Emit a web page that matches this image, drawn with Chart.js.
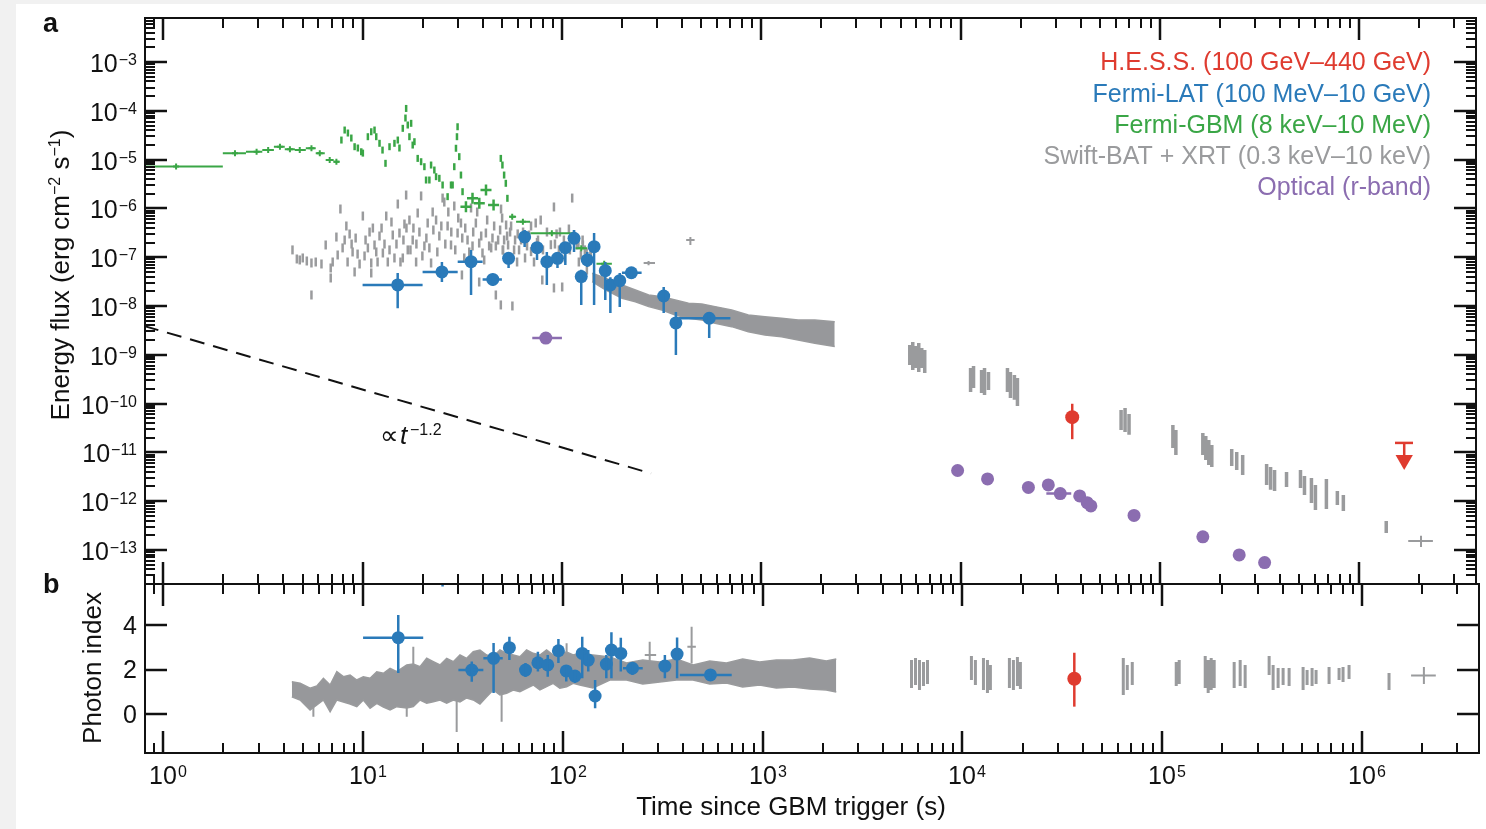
<!DOCTYPE html>
<html>
<head>
<meta charset="utf-8">
<script src="https://cdn.jsdelivr.net/npm/chart.js@4.4.1/dist/chart.umd.min.js"></script>
<style>
  body { margin: 0; background: #f1f1f1; width: 1486px; height: 829px; overflow: hidden; position: relative; }
  #sheet { position: absolute; left: 16px; top: 4px; width: 1470px; height: 825px; background: #fff; }
  canvas { position: absolute; left: 0; }
  #panelA { top: 0; }
  #panelB { top: 560px; }
</style>
</head>
<body>
<div id="sheet"></div>
<canvas id="panelA" width="1486" height="600"></canvas>
<canvas id="panelB" width="1486" height="269"></canvas>
<script>
// axis ranges
const xMin = 0.81, xMax = 3.85e6;
const fluxMin = 2.0e-14, fluxMax = 8.0e-3;
const idxMin = -1.76, idxMax = 5.86;
const xTickExp = [0, 1, 2, 3, 4, 5, 6];
const fluxTickExp = [-3, -4, -5, -6, -7, -8, -9, -10, -11, -12, -13];
const idxTicks = [0, 2, 4];

const legendLabels = ['H.E.S.S. (100 GeV\u2013440 GeV)', 'Fermi-LAT (100 MeV\u201310 GeV)',
  'Fermi-GBM (8 keV\u201310 MeV)', 'Swift-BAT + XRT (0.3 keV\u201310 keV)', 'Optical (r-band)'];

// Fermi-LAT
const latT = [15, 25, 35, 45, 54, 65, 75, 84, 95, 104, 115, 125, 134, 145, 165, 175, 195, 223, 324, 373, 548];
const latTLo = [10, 20, 30, 40, null, null, null, null, null, null, null, null, null, null, null, null, null, 200, null, null, 385];
const latTHi = [20, 30, 40, 50, null, null, null, null, null, null, null, null, null, null, null, null, null, 251, null, null, 700];
const latF = [2.7e-8, 5.0e-8, 8.1e-8, 3.5e-8, 9.5e-8, 2.6e-7, 1.57e-7, 8.1e-8, 9.5e-8, 1.57e-7, 2.44e-7, 4.0e-8, 8.8e-8, 1.64e-7, 5.3e-8, 2.7e-8, 3.3e-8, 4.8e-8, 1.6e-8, 4.5e-9, 5.6e-9];
const latFHi = [4.75e-8, 8.0e-8, 1.41e-7, 4.6e-8, 1.28e-7, 3.6e-7, 2.05e-7, 1.28e-7, 1.22e-7, 2.05e-7, 3.6e-7, 5.5e-8, 1.28e-7, 3.13e-7, 8.0e-8, 3.9e-8, 4.75e-8, 6.3e-8, 2.45e-8, 7.5e-9, 7.5e-9];
const latFLo = [9.0e-9, 3.1e-8, 1.68e-8, 2.6e-8, 6.0e-8, 1.62e-7, 8.8e-8, 2.7e-8, 6.0e-8, 6.9e-8, 1.28e-7, 1.05e-8, 6.3e-8, 1.05e-8, 1.33e-8, 7.2e-9, 9.5e-9, 3.75e-8, 7.2e-9, 9.9e-10, 2.2e-9];
const latIdx = [3.44, 7.0, 1.98, 2.51, 2.99, 1.98, 2.31, 2.21, 2.85, 1.94, 1.71, 2.73, 2.43, 0.81, 2.25, 2.88, 2.73, 2.06, 2.16, 2.70, 1.76];
const latIdxHi = [4.46, 8.0, 2.36, 3.2, 3.48, 2.30, 2.81, 2.66, 3.38, 2.21, 1.98, 3.48, 2.88, 1.53, 2.66, 3.68, 3.44, 2.28, 2.66, 3.45, 1.9];
const latIdxLo = [1.85, 5.75, 1.45, 0.95, 2.43, 1.67, 1.91, 1.68, 2.30, 1.46, 1.40, 1.61, 1.91, 0.26, 1.61, 1.61, 1.91, 1.76, 1.61, 1.61, 1.61];

// H.E.S.S.
const hessT = [36300], hessF = [5.26e-11], hessFLo = [1.86e-11], hessFHi = [9.9e-11];
const hessIdx = [1.59], hessIdxLo = [0.33], hessIdxHi = [2.76];
const hessUlT = [1.68e6], hessUlTLo = [1.51e6], hessUlTHi = [1.86e6], hessUlF = [1.56e-11], hessUlTip = [7.0e-12];

// Optical r-band
const optT = [83, 9660, 13650, 21880, 27540, 31620, 39580, 43150, 45030, 74130, 164100, 249800, 335000];
const optTLo = [71, null, null, null, null, 26920, null, null, null, null, null, null, null];
const optTHi = [100, null, null, null, null, 35890, null, null, null, null, null, null, null];
const optF = [2.2e-9, 4.24e-12, 2.85e-12, 1.91e-12, 2.15e-12, 1.43e-12, 1.28e-12, 9.3e-13, 7.97e-13, 5.1e-13, 1.85e-13, 7.9e-14, 5.5e-14];

// Fermi-GBM: binned points with time ranges
const gbmBinT = [1.16, 2.29, 2.94, 3.36, 3.85, 4.32, 4.84, 5.54, 6.10, 6.84, 7.39, 56.3, 63.7, 89, 125, 163];
const gbmBinLo = [0.5, 1.99, 2.60, 3.14, 3.59, 4.07, 4.57, 5.19, 5.82, 6.53, 7.16, 54.5, 58.9, 69.5, 117, 149];
const gbmBinHi = [1.99, 2.60, 3.14, 3.59, 4.07, 4.57, 5.19, 5.82, 6.46, 7.16, 7.67, 58.9, 69.2, 114.8, 134, 178];
const gbmBinF = [7.2e-6, 1.35e-5, 1.45e-5, 1.57e-5, 1.84e-5, 1.63e-5, 1.57e-5, 1.71e-5, 1.35e-5, 9.8e-6, 9.06e-6, 6.76e-7, 5.3e-7, 3.09e-7, 1.52e-7, 7.3e-8];
// Fermi-GBM: fine time bins during the prompt phase
const gbmT = [7.83, 8.13, 8.44, 8.78, 9.12, 9.47, 9.85, 10.03, 10.63, 11.05, 11.48, 11.71, 12.16, 12.59, 13.03, 13.65, 14.45, 15.02, 15.31, 15.91,
  16.41, 16.54, 16.85, 17.18, 17.52, 17.84, 18.2, 18.9, 19.66, 20.42, 20.82, 21.63, 22.06, 22.91, 23.37, 24.27, 25.2, 26.7, 27.77, 28.29,
  28.84, 29.41, 29.75, 29.96, 30.55, 31.15, 31.73, 49.37, 50.29, 51.29, 52.3, 53.27];
const gbmF = [2.52e-5, 4.04e-5, 3.51e-5, 2.77e-5, 1.84e-5, 1.73e-5, 1.45e-5, 1.36e-5, 2.95e-5, 3.73e-5, 4.04e-5, 2.95e-5, 2.16e-5, 1.57e-5, 8.4e-6, 1.84e-5, 2.16e-5, 2.52e-5, 1.73e-5, 4.38e-5,
  7.12e-5, 1.12e-4, 5.12e-5, 2.95e-5, 5.55e-5, 1.99e-5, 2.33e-5, 1.06e-5, 9.06e-6, 7.16e-6, 3.82e-6, 3.82e-6, 7.75e-6, 6.12e-6, 4.47e-6, 4.14e-6, 3.02e-6, 1.74e-6, 3.02e-6, 3.02e-6,
  7.16e-6, 1.71e-5, 2.95e-5, 4.72e-5, 1.15e-5, 4.83e-6, 2.2e-6, 1.06e-5, 7.75e-6, 4.83e-6, 3.27e-6, 1.61e-6];
const gbmCrossT = [33.0, 35.6, 38.5, 41.6, 45.4];
const gbmCrossF = [1.08e-6, 1.61e-6, 1.27e-6, 2.38e-6, 1.17e-6];

// Swift BAT+XRT: early points
const xrtEarlyT = [4.45, 4.68, 4.84, 5.01, 5.25, 5.54, 5.54, 5.82, 6.22, 6.53, 6.92, 6.92, 7.39, 7.74, 7.94, 8.29, 8.61, 8.91, 9.12, 9.44,
  10.03, 10.23, 10.63, 11.05, 11.05, 11.26, 11.71, 12.16, 12.64, 13.14, 13.38, 14.17, 14.45, 15.02, 15.31, 15.91, 16.22, 16.54, 16.85, 17.18,
  17.84, 18.56, 18.9, 19.66, 20.42, 21.21, 22.06, 22.47, 23.37, 24.27, 25.2, 25.7, 26.7, 27.77, 28.84, 29.96, 31.15, 31.5, 32.36, 33.61,
  35.0, 35.6, 37.0, 38.46, 38.46, 39.95, 41.55, 43.15, 44.83, 46.61, 46.61, 48.98, 49.37, 49.5, 50.12, 50.5, 51.29, 52.48, 53.7, 54.95,
  56.43, 57.54, 59.57, 60, 62.37, 65.31, 68.39, 70, 73.87, 75, 78.25, 79.7, 84.14, 88, 91.2, 91.2, 94, 96.6, 98, 100.3,
  102.3, 108.4, 112.6, 115, 118.9, 121, 124.5, 127, 130.3, 133, 136.5, 139,
  7.08, 7.50, 8.13, 8.41, 8.81, 9.23, 9.66, 10.35, 10.84, 11.48, 11.89, 12.45, 12.88, 13.65, 13.96, 14.79, 15.49, 16.03, 16.6, 17.38,
  17.99, 18.62, 19.28, 19.95, 20.89, 21.63, 22.65, 23.71, 24.83, 26.0, 26.92, 27.86, 29.17, 30.2, 31.62, 32.73, 34.28, 35.89, 37.58, 39.36,
  40.74, 42.17, 44.16, 45.71, 47.86, 50.7, 53.09, 55.59, 58.21, 60.95, 63.83, 66.83, 69.98, 72.44, 75.86, 80.35, 84.14, 88.1, 92.26, 97.72,
  103.5, 109.6, 114.8, 121.6, 127.4, 133.4, 139.6];
const xrtEarlyF = [1.41e-7, 9.19e-8, 8.77e-8, 9.64e-8, 8.36e-8, 7.61e-8, 1.68e-8, 7.97e-8, 7.26e-8, 1.78e-7, 6.01e-8, 3.75e-8, 2.59e-7, 9.72e-7, 1.55e-7, 4.36e-7, 2.99e-7, 1.28e-7, 4.98e-8, 1.16e-7,
  6.98e-7, 1.06e-7, 1.55e-7, 7.61e-8, 4.75e-8, 3.96e-7, 1.28e-7, 2.72e-7, 1.22e-7, 6.98e-7, 7.97e-8, 2.85e-7, 9.64e-8, 1.23e-6, 3.13e-7, 9.64e-8, 4.79e-7, 1.88e-6, 1.41e-7, 5.78e-7,
  2.25e-7, 7.97e-8, 8.05e-7, 1.80e-6, 1.70e-7, 5.02e-7, 7.61e-8, 8.44e-7, 5.78e-7, 2.72e-7, 1.63e-6, 1.35e-6, 4.36e-7, 1.78e-7, 1.12e-6, 3.13e-7, 5.02e-7, 4.32e-8, 9.64e-8, 2.25e-7,
  1.02e-6, 1.70e-7, 5.02e-7, 1.95e-7, 3.10e-8, 1.22e-7, 3.13e-7, 1.70e-7, 2.47e-7, 1.70e-7, 1.68e-8, 3.61e-7, 1.05e-8, 9.7e-7, 6.35e-7, 1.4e-7, 2.25e-7, 4.57e-7, 1.78e-7, 3.28e-7,
  1.0e-8, 1.41e-7, 7.97e-8, 3.0e-7, 2.25e-7, 9.64e-8, 2.85e-7, 1.3e-7, 5.02e-7, 2.0e-7, 5.78e-7, 3.41e-8, 6.92e-8, 1.8e-7, 1.07e-6, 2.34e-8, 3.0e-7, 1.41e-7, 9.0e-8, 2.45e-8,
  2.25e-7, 3.78e-7, 1.63e-6, 2.85e-7, 1.78e-7, 1.95e-7, 1.11e-7, 2.25e-7, 1.41e-7, 1.22e-7, 7.97e-8, 1.06e-7,
  7.97e-8, 1.11e-7, 2.25e-7, 7.97e-8, 1.86e-7, 2.47e-7, 7.26e-8, 2.25e-7, 3.28e-7, 1.78e-7, 7.97e-8, 3.96e-7, 1.86e-7, 1.41e-7, 5.26e-7, 1.86e-7, 7.97e-8, 2.25e-7, 3.96e-7, 1.41e-7,
  3.96e-7, 1.86e-7, 3.28e-7, 1.06e-7, 2.47e-7, 1.55e-7, 3.61e-7, 1.28e-7, 4.36e-7, 1.86e-7, 8.44e-7, 3.28e-7, 1.41e-7, 6.35e-7, 2.47e-7, 3.96e-7, 1.28e-7, 3.28e-7, 8.44e-7, 2.72e-7,
  8.77e-8, 5.78e-7, 1.55e-7, 4.36e-7, 2.25e-7, 1.41e-7, 2.72e-7, 4.36e-7, 2.25e-7, 1.41e-7, 3.28e-7, 1.70e-7, 4.36e-7, 7.97e-8, 2.25e-7, 1.41e-7, 3.28e-7, 7.97e-8, 1.86e-7, 3.28e-7,
  9.64e-8, 1.41e-7, 2.47e-7, 7.97e-8, 1.78e-7, 5.47e-8, 1.11e-7];
// Swift XRT: dense band (upper / lower edge)
const xrtBandT = [141.8, 165.4, 200.3, 233.7, 272.3, 317.4, 370.3, 431.5, 502.9, 586.7, 710.3, 861, 1043.5, 1264, 1531, 1856, 2336];
const xrtBandHi = [4.68e-8, 3.70e-8, 2.69e-8, 2.13e-8, 1.68e-8, 1.55e-8, 1.33e-8, 1.14e-8, 1.10e-8, 9.7e-9, 8.28e-9, 6.54e-9, 6.04e-9, 5.6e-9, 5.17e-9, 5.17e-9, 4.77e-9];
const xrtBandLo = [3.15e-8, 2.13e-8, 1.44e-8, 1.22e-8, 9.7e-9, 8.28e-9, 6.54e-9, 5.6e-9, 5.17e-9, 4.42e-9, 3.77e-9, 2.97e-9, 2.55e-9, 2.35e-9, 2.01e-9, 1.72e-9, 1.47e-9];
// Swift XRT: late orbits (time, low, high)
const xrtLateT = [5559, 5754, 5957, 6166, 6383, 6607, 11220, 11610, 12740, 13180, 13800, 17180, 17780, 18620, 19280, 63830, 66830, 69980, 116100, 120200,
  164100, 169800, 175800, 182000, 229100, 242700, 260000, 342800, 358900, 375800, 431500, 507000, 530900, 575400, 602600, 683900, 776200, 831800, 1365000];
const xrtLateHi = [1.59e-9, 1.83e-9, 1.52e-9, 1.75e-9, 1.38e-9, 1.25e-9, 5.36e-10, 5.89e-10, 4.89e-10, 5.36e-10, 4.45e-10, 5.36e-10, 4.45e-10, 3.86e-10, 3.35e-10, 7.4e-11, 8.13e-11, 6.12e-11, 3.64e-11, 2.88e-11,
  2.5e-11, 2.17e-11, 1.79e-11, 1.42e-11, 1.17e-11, 1.02e-11, 8.85e-12, 5.78e-12, 5.02e-12, 4.36e-12, 3.96e-12, 4.36e-12, 3.28e-12, 2.99e-12, 2.15e-12, 2.85e-12, 1.62e-12, 1.34e-12, 3.93e-13];
const xrtLateLo = [6.18e-10, 4.89e-10, 5.36e-10, 4.45e-10, 5.36e-10, 4.24e-10, 1.73e-10, 2.09e-10, 1.65e-10, 1.50e-10, 1.90e-10, 1.73e-10, 1.30e-10, 1.19e-10, 8.93e-11, 2.88e-11, 2.62e-11, 2.28e-11, 1.23e-11, 8.85e-12,
  8.85e-12, 6.99e-12, 5.52e-12, 5.02e-12, 5.26e-12, 4.36e-12, 3.44e-12, 2.15e-12, 1.70e-12, 1.62e-12, 1.95e-12, 1.86e-12, 1.34e-12, 9.18e-13, 6.6e-13, 6.92e-13, 8.36e-13, 6.3e-13, 2.23e-13];
// Swift XRT: binned points with time ranges
const xrtCrossT = [272, 441, 2.04e6], xrtCrossTLo = [257, 420, 1.76e6], xrtCrossTHi = [293, 463, 2.34e6];
const xrtCrossF = [7.6e-8, 2.25e-7, 1.53e-13], xrtCrossFLo = [6.8e-8, 1.78e-7, 1.15e-13], xrtCrossFHi = [8.4e-8, 2.59e-7, 1.94e-13];
const xrtCrossIdx = [2.66, 3.03, 1.73], xrtCrossIdxLo = [2.21, 2.28, 1.35], xrtCrossIdxHi = [3.26, 3.93, 2.12];
// Swift photon index: band edges, spikes, late orbits
const xrtIdxT = [4.40, 4.84, 5.43, 5.87, 6.33, 6.84, 7.39, 7.97, 8.61, 9.30, 10.03, 10.84, 11.71, 12.64, 13.65, 14.74, 16.54, 17.84, 19.28, 20.82,
  22.47, 24.27, 26.21, 28.29, 30.55, 33.0, 35.6, 38.46, 41.55, 44.83, 48.42, 52.3, 56.43, 60.95, 65.84, 71.05, 76.74, 82.89, 89.43, 96.6,
  104.4, 112.6, 121.6, 141.3, 171.8, 208.2, 251.2, 305.5, 370.3, 448.3, 543.3, 658.4, 794.3, 966, 1171, 1417, 1718, 2082, 2336];
const xrtIdxHi = [1.455, 1.383, 1.158, 1.261, 1.608, 1.306, 1.905, 1.680, 1.757, 1.532, 1.680, 1.608, 1.905, 1.833, 2.059, 1.905, 2.207, 2.252, 2.131, 2.509,
  2.356, 2.207, 2.509, 2.356, 2.658, 2.509, 2.806, 2.883, 2.658, 2.581, 2.883, 2.734, 2.658, 2.581, 2.883, 2.734, 2.658, 2.883, 2.658, 2.734,
  2.793, 2.658, 2.734, 2.658, 2.568, 2.297, 2.432, 2.342, 2.477, 2.207, 2.387, 2.297, 2.477, 2.342, 2.432, 2.432, 2.523, 2.387, 2.477];
const xrtIdxLo = [0.779, 0.631, 0.180, 0.405, 0.631, 0.104, 0.631, 0.541, 0.450, 0.329, 0.631, 0.257, 0.482, 0.315, 0.180, 0.329, 0.270, 0.329, 0.631, 0.482,
  0.554, 0.631, 0.482, 0.631, 0.541, 0.721, 0.631, 0.450, 0.779, 1.081, 0.856, 0.932, 1.081, 1.005, 1.158, 1.306, 1.081, 1.230, 1.383, 1.158,
  1.230, 1.383, 1.306, 1.171, 1.532, 1.532, 1.351, 1.441, 1.532, 1.532, 1.351, 1.396, 1.216, 1.306, 1.171, 1.216, 1.126, 1.081, 0.991];
const xrtSpikeT = [5.64, 16.54, 17.84, 29.41, 49.37, 104.4];
const xrtSpikeLo = [-0.12, -0.12, 1.2, -0.81, -0.35, 1.6];
const xrtSpikeHi = [0.7, 0.8, 3.03, 1.0, 1.0, 3.19];
const xrtLateIdxT = [5559, 5821, 6095, 6383, 6683, 11090, 11610, 12740, 13340, 13800, 17180, 17990, 18840, 19500, 63830, 66830, 70790, 117500, 121600, 164100,
  169800, 175800, 182000, 229100, 245500, 260000, 342800, 358900, 380200, 402700, 431500, 507000, 530900, 562300, 588800, 683900, 767400, 803500, 861000, 1365000];
const xrtLateIdxHi = [2.432, 2.523, 2.432, 2.342, 2.432, 2.613, 2.432, 2.523, 2.432, 2.207, 2.523, 2.432, 2.568, 2.342, 2.523, 2.207, 2.342, 2.342, 2.432, 2.613,
  2.432, 2.523, 2.432, 2.342, 2.432, 2.207, 2.613, 2.207, 2.072, 2.072, 2.072, 2.117, 1.982, 2.072, 1.982, 2.117, 2.072, 2.117, 2.207, 1.847];
const xrtLateIdxLo = [1.171, 1.306, 1.081, 1.261, 1.351, 1.532, 1.306, 1.081, 0.946, 1.081, 1.171, 1.081, 1.261, 1.126, 0.856, 1.081, 1.306, 1.261, 1.351, 1.171,
  0.946, 1.081, 1.171, 1.171, 1.261, 1.171, 1.757, 1.081, 1.171, 1.306, 1.261, 1.081, 1.306, 1.261, 1.351, 1.351, 1.532, 1.441, 1.577, 1.081];

// power law guide, t^-1.2
const powT = [0.8, 280];
const powF = [3.9e-9, 3.7e-12];

const RED = '#df3b2f', BLUE = '#2a7ab9', GREEN = '#3aa646', GRAY = '#9a9b9d', PURPLE = '#8b6db0', INK = '#111';
const legendColors = [RED, BLUE, GREEN, GRAY, PURPLE];
const FONT = '"Liberation Sans", Arial, Helvetica, "DejaVu Sans", sans-serif';

// helpers building chart data from the arrays
const pts = (xs, ys) => xs.map((x, i) => ({x, y: ys[i]}));
function vSeg(ts, los, his) {
    const out = [];
    ts.forEach((t, i) => {
        if (los[i] == null) return;
        out.push({x: t, y: los[i]}, {x: t, y: his[i]}, {x: t, y: null});
    });
    return out;
}
function hSeg(ys, los, his) {
    const out = [];
    ys.forEach((y, i) => {
        if (los[i] == null) return;
        out.push({x: los[i], y}, {x: his[i], y}, {x: his[i], y: null});
    });
    return out;
}
const line = (data, color, width, order, extra) =>
    Object.assign({data, borderColor: color, backgroundColor: color, borderWidth: width, pointRadius: 0, showLine: true, fill: false, order}, extra || {});
const dots = (data, color, style, radius, order, extra) =>
    Object.assign({data, showLine: false, pointStyle: style, pointRadius: radius, backgroundColor: color, borderColor: color, borderWidth: 0, order}, extra || {});

function logTicks(min, max) {
    const major = [], minor = [];
    for (let e = Math.floor(Math.log10(min)); e <= Math.ceil(Math.log10(max)); e++) {
        for (let k = 1; k <= 9; k++) {
            const v = k * Math.pow(10, e);
            if (v < min || v > max) continue;
            (k === 1 ? major : minor).push(v);
        }
    }
    return {major, minor};
}

function drawFrame(chart, yMajor, yMinor) {
    const {ctx, chartArea: a} = chart;
    const sx = chart.scales.x, sy = chart.scales.y;
    const xt = logTicks(xMin, xMax);
    const seg = (x1, y1, x2, y2) => { ctx.beginPath(); ctx.moveTo(x1, y1); ctx.lineTo(x2, y2); ctx.stroke(); };
    ctx.strokeStyle = INK;
    ctx.lineCap = 'butt';
    [[xt.major, 22, 2.5], [xt.minor, 10, 2]].forEach(([vals, len, w]) => {
        ctx.lineWidth = w;
        vals.forEach(v => {
            const p = Math.round(sx.getPixelForValue(v));
            seg(p, a.top, p, a.top + len);
            seg(p, a.bottom, p, a.bottom - len);
        });
    });
    [[yMajor, 22, 2.5], [yMinor, 10, 2]].forEach(([vals, len, w]) => {
        ctx.lineWidth = w;
        vals.forEach(v => {
            const p = Math.round(sy.getPixelForValue(v));
            seg(a.left, p, a.left + len, p);
            seg(a.right, p, a.right - len, p);
        });
    });
    ctx.lineWidth = 2;
    ctx.strokeRect(a.left, a.top, a.right - a.left, a.bottom - a.top);
}

function drawPow(ctx, e, x, y, align) {
    const sup = e < 0 ? '\u2212' + (-e) : String(e);
    ctx.font = '25px ' + FONT;
    const wb = ctx.measureText('10').width;
    ctx.font = '16px ' + FONT;
    const ws = ctx.measureText(sup).width;
    const x0 = align === 'right' ? x - wb - ws - 1 : x - wb / 2;
    ctx.textAlign = 'left';
    ctx.textBaseline = 'alphabetic';
    ctx.font = '25px ' + FONT;
    ctx.fillText('10', x0, y);
    ctx.font = '16px ' + FONT;
    ctx.fillText(sup, x0 + wb + 1, y - 7);
}

// text with superscript pieces, centred on (0, 0) of the current transform
function drawRich(ctx, parts) {
    const font = s => (s ? '16px ' : '26px ') + FONT;
    let total = 0;
    parts.forEach(([txt, s]) => { ctx.font = font(s); total += ctx.measureText(txt).width; });
    let x = -total / 2;
    ctx.textAlign = 'left';
    ctx.textBaseline = 'alphabetic';
    parts.forEach(([txt, s]) => {
        ctx.font = font(s);
        ctx.fillText(txt, x, s ? -9 : 0);
        x += ctx.measureText(txt).width;
    });
}

const fluxTicks = logTicks(fluxMin, fluxMax);

const panelAPlugin = {
    id: 'panelA',
    afterDraw(chart) {
        const ctx = chart.ctx, sy = chart.scales.y;
        ctx.save();
        drawFrame(chart, fluxTicks.major, fluxTicks.minor);
        ctx.fillStyle = INK;
        fluxTickExp.forEach(e => drawPow(ctx, e, 137, Math.round(sy.getPixelForValue(Math.pow(10, e))) + 10, 'right'));
        ctx.font = 'bold 27px ' + FONT;
        ctx.textAlign = 'left';
        ctx.textBaseline = 'alphabetic';
        ctx.fillText('a', 43, 32);
        // axis title
        ctx.save();
        ctx.translate(69, 275);
        ctx.rotate(-Math.PI / 2);
        drawRich(ctx, [['Energy flux (erg cm', 0], ['\u22122', 1], [' s', 0], ['\u22121', 1], [')', 0]]);
        ctx.restore();
        // power law label
        ctx.textAlign = 'left';
        ctx.font = '26px ' + FONT;
        ctx.fillText('\u221d', 380, 444);
        ctx.font = 'italic 26px ' + FONT;
        ctx.fillText('t', 400, 444);
        ctx.font = '16px ' + FONT;
        ctx.fillText('\u22121.2', 410, 435);
        // legend
        ctx.font = '25px ' + FONT;
        ctx.textAlign = 'right';
        ctx.textBaseline = 'middle';
        const ly = [63, 95, 126, 157, 188];
        legendLabels.forEach((s, i) => { ctx.fillStyle = legendColors[i]; ctx.fillText(s, 1431, ly[i]); });
        ctx.restore();
    }
};

const panelBPlugin = {
    id: 'panelB',
    afterDraw(chart) {
        const ctx = chart.ctx, sx = chart.scales.x, sy = chart.scales.y;
        ctx.save();
        drawFrame(chart, idxTicks, []);
        ctx.fillStyle = INK;
        ctx.font = '25px ' + FONT;
        ctx.textAlign = 'right';
        ctx.textBaseline = 'middle';
        idxTicks.forEach(v => ctx.fillText(String(v), 137, sy.getPixelForValue(v) + 2));
        xTickExp.forEach(e => drawPow(ctx, e, Math.round(sx.getPixelForValue(Math.pow(10, e))), 224, 'center'));
        ctx.font = 'bold 27px ' + FONT;
        ctx.textAlign = 'left';
        ctx.textBaseline = 'alphabetic';
        ctx.fillText('b', 43, 33);
        ctx.font = '26px ' + FONT;
        ctx.textAlign = 'center';
        ctx.fillText('Time since GBM trigger (s)', 791, 255);
        ctx.save();
        ctx.translate(101, 108);
        ctx.rotate(-Math.PI / 2);
        drawRich(ctx, [['Photon index', 0]]);
        ctx.restore();
        ctx.restore();
    }
};

function baseOptions(padding, yMin, yMax, yType) {
    return {
        animation: false,
        responsive: false,
        events: [],
        layout: {padding},
        plugins: {legend: {display: false}, tooltip: {enabled: false}},
        scales: {
            x: {type: 'logarithmic', min: xMin, max: xMax, display: false},
            y: {type: yType, min: yMin, max: yMax, display: false}
        }
    };
}

// ---------- panel a: energy flux ----------
const dsA = [];
dsA.push(line(pts(xrtBandT, xrtBandHi), GRAY, 1.5, 6));
const bandUpper = dsA.length - 1;
dsA.push(line(pts(xrtBandT, xrtBandLo), GRAY, 1.5, 6, {fill: {target: bandUpper}, backgroundColor: '#97989b'}));
dsA.push(dots(pts(xrtEarlyT, xrtEarlyF), GRAY, 'line', 4.5, 6, {borderWidth: 2.5, pointRotation: 90}));
dsA.push(line(vSeg(xrtLateT, xrtLateLo, xrtLateHi), GRAY, 3.5, 6));
dsA.push(line(vSeg(xrtCrossT, xrtCrossFLo, xrtCrossFHi), GRAY, 2, 6));
dsA.push(line(hSeg(xrtCrossF, xrtCrossTLo, xrtCrossTHi), GRAY, 2, 6));
dsA.push(line(hSeg(gbmBinF, gbmBinLo, gbmBinHi), GREEN, 2, 5));
dsA.push(dots(pts(gbmBinT, gbmBinF), GREEN, 'cross', 3, 5, {borderWidth: 2}));
dsA.push(dots(pts(gbmT, gbmF), GREEN, 'line', 3.5, 5, {borderWidth: 2.5, pointRotation: 90}));
dsA.push(dots(pts(gbmCrossT, gbmCrossF), GREEN, 'cross', 5.5, 5, {borderWidth: 2.5}));
dsA.push(line(pts(powT, powF), INK, 2, 4, {borderDash: [15, 9]}));
dsA.push(line(hSeg(optF, optTLo, optTHi), PURPLE, 2.5, 3));
dsA.push(dots(pts(optT, optF), PURPLE, 'circle', 6.5, 3));
dsA.push(line(vSeg(latT, latFLo, latFHi), BLUE, 2.5, 2));
dsA.push(line(hSeg(latF, latTLo, latTHi), BLUE, 2.5, 2));
dsA.push(dots(pts(latT, latF), BLUE, 'circle', 6.5, 2));
dsA.push(line(vSeg(hessT, hessFLo, hessFHi), RED, 2.5, 1));
dsA.push(dots(pts(hessT, hessF), RED, 'circle', 7, 1));
dsA.push(line(hSeg(hessUlF, hessUlTLo, hessUlTHi), RED, 2.5, 1));
dsA.push(line(vSeg(hessUlT, hessUlTip, hessUlF), RED, 2.5, 1));
dsA.push(dots(pts(hessUlT, hessUlTip), RED, 'triangle', 10, 1, {pointRotation: 180}));

new Chart(document.getElementById('panelA'), {
    type: 'line',
    data: {datasets: dsA},
    options: baseOptions({left: 145, right: 6, top: 18, bottom: 16}, fluxMin, fluxMax, 'logarithmic'),
    plugins: [panelAPlugin]
});

// ---------- panel b: photon index ----------
const dsB = [];
dsB.push(line(pts(xrtIdxT, xrtIdxHi), GRAY, 1.5, 6));
const idxUpper = dsB.length - 1;
dsB.push(line(pts(xrtIdxT, xrtIdxLo), GRAY, 1.5, 6, {fill: {target: idxUpper}, backgroundColor: '#97989b'}));
dsB.push(line(vSeg(xrtSpikeT, xrtSpikeLo, xrtSpikeHi), GRAY, 2, 6));
dsB.push(line(vSeg(xrtLateIdxT, xrtLateIdxLo, xrtLateIdxHi), GRAY, 3, 6));
dsB.push(line(vSeg(xrtCrossT, xrtCrossIdxLo, xrtCrossIdxHi), GRAY, 2, 6));
dsB.push(line(hSeg(xrtCrossIdx, xrtCrossTLo, xrtCrossTHi), GRAY, 2, 6));
dsB.push(line(vSeg(latT, latIdxLo, latIdxHi), BLUE, 2.5, 2));
dsB.push(line(hSeg(latIdx, latTLo, latTHi), BLUE, 2.5, 2));
dsB.push(dots(pts(latT, latIdx), BLUE, 'circle', 6.5, 2));
dsB.push(line(vSeg(hessT, hessIdxLo, hessIdxHi), RED, 2.5, 1));
dsB.push(dots(pts(hessT, hessIdx), RED, 'circle', 7, 1));

new Chart(document.getElementById('panelB'), {
    type: 'line',
    data: {datasets: dsB},
    options: baseOptions({left: 145, right: 6, top: 24, bottom: 76}, idxMin, idxMax, 'linear'),
    plugins: [panelBPlugin]
});
</script>
</body>
</html>
